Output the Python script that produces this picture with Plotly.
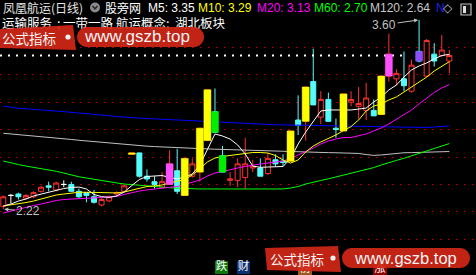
import plotly.graph_objects as go

W, H = 476, 275

# ---------------- data ----------------
opens = [2.24, 2.32, 2.33, 2.30, 2.31, 2.35, 2.39, 2.36, 2.40, 2.40,
         2.35, 2.34, 2.31, 2.25, 2.28, 2.33, 2.35, 2.62, 2.63, 2.46,
         2.42, 2.38, 2.40, 2.50, 2.32, 2.46, 2.49, 2.72, 2.93, 2.61,
         2.43, 2.43, 2.45, 2.52, 2.52, 2.48, 2.58, 2.57, 2.57, 2.87,
         2.86, 3.15, 2.89, 3.02, 2.81, 2.79, 3.00, 2.97, 2.94, 2.94,
         2.91, 3.19, 3.17, 3.17, 3.08, 3.37, 3.19, 3.35, 3.34, 3.30]
highs = [2.32, 2.33, 2.34, 2.33, 2.35, 2.39, 2.42, 2.42, 2.43, 2.42,
         2.37, 2.34, 2.36, 2.30, 2.32, 2.35, 2.40, 2.63, 2.63, 2.51,
         2.46, 2.49, 2.65, 2.66, 2.59, 2.59, 2.81, 3.09, 3.10, 2.68,
         2.49, 2.59, 2.74, 2.58, 2.59, 2.63, 2.62, 2.62, 2.79, 3.05,
         3.11, 3.39, 3.08, 3.07, 2.88, 3.06, 3.08, 3.11, 3.14, 3.02,
         3.19, 3.50, 3.24, 3.37, 3.31, 3.60, 3.46, 3.43, 3.49, 3.38]
lows = [2.22, 2.26, 2.29, 2.29, 2.30, 2.34, 2.35, 2.35, 2.38, 2.35,
        2.30, 2.27, 2.26, 2.24, 2.27, 2.31, 2.34, 2.62, 2.45, 2.42,
        2.37, 2.38, 2.40, 2.33, 2.32, 2.45, 2.42, 2.72, 2.78, 2.49,
        2.39, 2.38, 2.37, 2.49, 2.46, 2.47, 2.53, 2.53, 2.57, 2.76,
        2.72, 2.98, 2.84, 2.86, 2.74, 2.79, 2.97, 2.88, 2.87, 2.90,
        2.91, 3.15, 3.12, 3.08, 3.07, 3.29, 3.18, 3.26, 3.33, 3.21]
closes = [2.31, 2.32, 2.31, 2.32, 2.34, 2.38, 2.38, 2.41, 2.40, 2.35,
          2.31, 2.32, 2.27, 2.29, 2.31, 2.34, 2.39, 2.63, 2.46, 2.44,
          2.40, 2.42, 2.55, 2.35, 2.59, 2.55, 2.81, 3.09, 2.78, 2.49,
          2.44, 2.55, 2.55, 2.53, 2.46, 2.59, 2.55, 2.56, 2.79, 2.83,
          3.11, 2.98, 3.02, 2.86, 2.80, 3.06, 3.02, 2.99, 3.03, 2.90,
          3.19, 3.35, 3.21, 3.12, 3.27, 3.30, 3.45, 3.30, 3.38, 3.34]
# indicator colouring of bodies: Y yellow, M magenta, G green, P purple
marks = ['', '', '', '', '', '', '', '', '', '',
         '', '', '', '', '', '', '', 'Y', '', '',
         '', '', 'M', '', 'Y', '', 'Y', 'Y', 'G', 'G',
         '', '', '', '', '', '', '', '', 'Y', '',
         'Y', '', '', '', '', 'Y', '', '', '', '',
         'Y', 'M', '', '', '', 'P', '', '', '', '']

ma5 = [2.243, 2.257, 2.279, 2.294, 2.316, 2.330, 2.345, 2.360, 2.370, 2.378,
       2.381, 2.367, 2.327, 2.311, 2.306, 2.316, 2.345, 2.392, 2.436, 2.458,
       2.462, 2.465, 2.451, 2.440, 2.454, 2.476, 2.542, 2.658, 2.768, 2.753,
       2.731, 2.688, 2.622, 2.534, 2.525, 2.527, 2.527, 2.531, 2.589, 2.695,
       2.782, 2.863, 2.936, 2.943, 2.943, 2.943, 2.943, 2.950, 2.957, 3.001,
       3.038, 3.089, 3.125, 3.183, 3.235, 3.264, 3.286, 3.315, 3.340, 3.349]
ma10 = [2.243, 2.250, 2.257, 2.268, 2.279, 2.294, 2.308, 2.323, 2.330, 2.338,
        2.343, 2.343, 2.341, 2.338, 2.335, 2.338, 2.345, 2.360, 2.374, 2.385,
        2.389, 2.396, 2.411, 2.425, 2.436, 2.469, 2.513, 2.564, 2.593, 2.604,
        2.611, 2.618, 2.626, 2.633, 2.633, 2.629, 2.611, 2.578, 2.556, 2.578,
        2.637, 2.680, 2.710, 2.735, 2.761, 2.793, 2.822, 2.870, 2.936, 2.972,
        2.987, 3.016, 3.038, 3.074, 3.111, 3.147, 3.183, 3.227, 3.264, 3.295]
ma20 = [2.192, 2.206, 2.221, 2.232, 2.246, 2.257, 2.272, 2.283, 2.290, 2.294,
        2.297, 2.301, 2.302, 2.305, 2.308, 2.312, 2.327, 2.341, 2.352, 2.360,
        2.367, 2.372, 2.378, 2.385, 2.400, 2.414, 2.432, 2.462, 2.483, 2.494,
        2.509, 2.520, 2.531, 2.542, 2.549, 2.556, 2.564, 2.571, 2.589, 2.615,
        2.637, 2.666, 2.695, 2.717, 2.731, 2.742, 2.742, 2.753, 2.768, 2.790,
        2.812, 2.841, 2.874, 2.906, 2.943, 2.987, 3.030, 3.070, 3.103, 3.129]
ma60 = [2.571, 2.556, 2.545, 2.534, 2.525, 2.516, 2.505, 2.496, 2.483, 2.469,
        2.456, 2.447, 2.437, 2.429, 2.418, 2.411, 2.403, 2.398, 2.392, 2.389,
        2.384, 2.379, 2.376, 2.373, 2.370, 2.367, 2.367, 2.367, 2.367, 2.367,
        2.367, 2.367, 2.367, 2.367, 2.367, 2.367, 2.367, 2.367, 2.374, 2.385,
        2.403, 2.418, 2.429, 2.441, 2.454, 2.469, 2.480, 2.494, 2.510, 2.523,
        2.542, 2.556, 2.575, 2.591, 2.607, 2.626, 2.644, 2.662, 2.680, 2.698]
ma120 = [2.773, 2.768, 2.763, 2.758, 2.753, 2.751, 2.748, 2.742, 2.735, 2.728,
         2.722, 2.717, 2.710, 2.706, 2.702, 2.697, 2.691, 2.686, 2.683, 2.679,
         2.676, 2.673, 2.669, 2.667, 2.665, 2.663, 2.661, 2.659, 2.657, 2.655,
         2.653, 2.651, 2.649, 2.647, 2.645, 2.644, 2.642, 2.641, 2.640, 2.638,
         2.637, 2.635, 2.634, 2.632, 2.631, 2.629, 2.628, 2.626, 2.618, 2.612,
         2.615, 2.622, 2.627, 2.631, 2.632, 2.634, 2.635, 2.637, 2.638, 2.640]
ma250 = [2.972, 2.961, 2.955, 2.952, 2.948, 2.945, 2.943, 2.937, 2.931, 2.926,
         2.921, 2.917, 2.914, 2.909, 2.901, 2.895, 2.890, 2.887, 2.884, 2.881,
         2.878, 2.875, 2.872, 2.870, 2.868, 2.866, 2.864, 2.861, 2.857, 2.853,
         2.850, 2.846, 2.843, 2.840, 2.838, 2.836, 2.835, 2.834, 2.833, 2.832,
         2.830, 2.829, 2.828, 2.826, 2.825, 2.825, 2.823, 2.822, 2.820, 2.819,
         2.817, 2.816, 2.815, 2.814, 2.814, 2.814, 2.815, 2.819, 2.824, 2.826]

legend_names = ['M5', 'M10', 'M20', 'M60', 'M120']
legend_vals = [3.35, 3.29, 3.13, 2.70, 2.64]
grid_levels = [2.0, 2.2, 2.4, 2.6, 2.8, 3.0, 3.2, 3.4]

stock_title = '凤凰航运(日线)'
site_name = '股旁网'
concepts = ['运输服务', ';', '一带一路', '航运概念', ';', '湖北板块']
bottom_tags = ['跌', '财', '榜', '涨']

# ---------------- styling ----------------
RED = '#FF3232'
CYAN = '#54FCFC'
MARK_COLORS = {'Y': '#FFFF00', 'M': '#FF50FF', 'G': '#00EE00', 'P': '#8850FF'}
MA_COLORS = ['#FFFFFF', '#FFFF00', '#FF00FF', '#00FF00', '#C0C0C0', '#0000FF']
CJK = 'Noto Sans CJK SC'
LAT = 'Liberation Sans'
WM = 'rgba(208,38,22,0.93)'
HALF = 0.465  # half width of indicator bodies (in candle slots)

XR = [-0.4365, 62.527]
YR = [1.7397, 3.7449]

def px(x):
    return x / W

def py(y):
    return 1 - y / H

def dx(x):
    return XR[0] + x / W * (XR[1] - XR[0])

def dy(y):
    return YR[1] - y / H * (YR[1] - YR[0])

idx = list(range(len(opens)))
fig = go.Figure()

# current-price dotted line
fig.add_trace(go.Scatter(x=[XR[0], 53.5], y=[closes[-1], closes[-1]], mode='lines',
                         line=dict(color='#FFFFFF', width=2, dash='2px,6px'),
                         hoverinfo='skip'))

# candles
groups = [
    ([i for i in idx if closes[i] > opens[i]], RED, '#000000'),
    ([i for i in idx if closes[i] < opens[i]], CYAN, CYAN),
    ([i for i in idx if closes[i] == opens[i]], '#FFFFFF', '#FFFFFF'),
]
for ii, col, fill in groups:
    fig.add_trace(go.Candlestick(
        x=ii, open=[opens[i] for i in ii], high=[highs[i] for i in ii],
        low=[lows[i] for i in ii], close=[closes[i] for i in ii],
        increasing=dict(line=dict(color=col, width=1), fillcolor=fill),
        decreasing=dict(line=dict(color=col, width=1), fillcolor=fill),
        whiskerwidth=0, hoverinfo='skip'))

# moving averages
for arr, col in zip([ma250, ma120, ma60, ma20, ma10, ma5],
                    [MA_COLORS[5], MA_COLORS[4], MA_COLORS[3], MA_COLORS[2], MA_COLORS[1], MA_COLORS[0]]):
    fig.add_trace(go.Scatter(x=idx, y=arr, mode='lines', line=dict(color=col, width=1),
                             hoverinfo='skip'))

# indicator-coloured bodies, drawn over the candles
for key, col in MARK_COLORS.items():
    xs, ys = [], []
    for i in idx:
        if marks[i] != key:
            continue
        b0, b1 = min(opens[i], closes[i]), max(opens[i], closes[i])
        xs += [i - HALF, i + HALF, i + HALF, i - HALF, i - HALF, None]
        ys += [b0, b0, b1, b1, b0, None]
    fig.add_trace(go.Scatter(x=xs, y=ys, mode='lines', fill='toself', fillcolor=col,
                             line=dict(width=0.5, color=col), hoverinfo='skip'))

# second-row concept text (under the watermark)
concept_x = [2, 57, 63, 116, 166, 175]
fig.add_trace(go.Scatter(x=[dx(v) for v in concept_x], y=[dy(25)] * len(concepts),
                         mode='text', text=concepts, textposition='middle right',
                         textfont=dict(family=CJK, size=12.5, color='#FFFFFF'),
                         marker=dict(size=1), hoverinfo='skip'))

# bottom tag boxes
tag_boxes = [(215, 261, 228, 274, '#0B780B'), (237, 261, 250, 274, '#0A2F72'),
             (298, 263, 312, 276, '#A0581C'), (373, 263, 387, 276, '#8C0000')]
shapes = []
for (x0, y0, x1, y1, c) in tag_boxes:
    shapes.append(dict(type='rect', xref='paper', yref='paper', x0=px(x0), x1=px(x1),
                       y0=py(y1), y1=py(y0), fillcolor=c, line=dict(width=0), layer='below'))
fig.add_trace(go.Scatter(x=[dx((b[0] + b[2]) / 2) for b in tag_boxes],
                         y=[dy((b[1] + b[3]) / 2) for b in tag_boxes],
                         mode='text', text=bottom_tags, textposition='middle center',
                         textfont=dict(family=CJK, size=11.5, color='#FFFFFF'),
                         marker=dict(size=1), hoverinfo='skip'))

# watermark shapes
def path(pts):
    s = 'M %.5f %.5f' % (px(pts[0][0]), py(pts[0][1]))
    for p in pts[1:]:
        s += ' L %.5f %.5f' % (px(p[0]), py(p[1]))
    return s + ' Z'

def pill(x0, y0, x1, y1):
    r = (y1 - y0) / 2
    ym = (y0 + y1) / 2
    P = lambda x, y: '%.5f %.5f' % (px(x), py(y))
    return ('M ' + P(x0 + r, y0) + ' L ' + P(x1 - r, y0) +
            ' C ' + P(x1 - r + 0.55 * r, y0) + ' ' + P(x1, ym - 0.55 * r) + ' ' + P(x1, ym) +
            ' C ' + P(x1, ym + 0.55 * r) + ' ' + P(x1 - r + 0.55 * r, y1) + ' ' + P(x1 - r, y1) +
            ' L ' + P(x0 + r, y1) +
            ' C ' + P(x0 + r - 0.55 * r, y1) + ' ' + P(x0, ym + 0.55 * r) + ' ' + P(x0, ym) +
            ' C ' + P(x0, ym - 0.55 * r) + ' ' + P(x0 + r - 0.55 * r, y0) + ' ' + P(x0 + r, y0) + ' Z')

for pts in ([(0, 29), (73, 25), (76, 50), (0, 48)], [(265, 248), (338, 246), (341, 272), (267, 270)]):
    shapes.append(dict(type='path', xref='paper', yref='paper', path=path(pts),
                       fillcolor=WM, line=dict(width=0), layer='above'))
for (x0, y0, x1, y1) in ((77, 27, 204, 47), (342, 248, 470, 268)):
    shapes.append(dict(type='path', xref='paper', yref='paper', path=pill(x0, y0, x1, y1),
                       fillcolor=WM, line=dict(width=0), layer='above'))
for (cx, cy) in ((68, 37), (333, 258)):
    shapes.append(dict(type='circle', xref='paper', yref='paper', x0=px(cx - 2.6), x1=px(cx + 2.6),
                       y0=py(cy + 2.6), y1=py(cy - 2.6), fillcolor='#F0F0F0', line=dict(width=0),
                       layer='above'))

# header icons
shapes.append(dict(type='circle', xref='paper', yref='paper', x0=px(90), x1=px(100),
                   y0=py(12.5), y1=py(2.5), fillcolor='#8A8A8A', line=dict(width=0)))
shapes.append(dict(type='path', xref='paper', yref='paper',
                   path='M %.5f %.5f L %.5f %.5f L %.5f %.5f' % (px(92.5), py(6), px(95), py(8.8), px(97.5), py(6)),
                   line=dict(color='#2A2A2A', width=1.6)))
shapes.append(dict(type='rect', xref='paper', yref='paper', x0=px(461), x1=px(471),
                   y0=py(15), y1=py(4), line=dict(color='#BBBBBB', width=1.2), fillcolor='#111111'))
shapes.append(dict(type='rect', xref='paper', yref='paper', x0=px(463), x1=px(466),
                   y0=py(13), y1=py(6), line=dict(width=0), fillcolor='#DDDDDD'))

annotations = []

def label(text, x, y, color, size, family=LAT):
    annotations.append(dict(text=text, x=px(x), y=py(y), xref='paper', yref='paper',
                            xanchor='left', yanchor='middle', showarrow=False,
                            font=dict(family=family, size=size, color=color), borderpad=0))

label(stock_title, 2, 8, '#E6E6E6', 12, CJK)
label(site_name, 104, 8, '#FFFFFF', 12, CJK)
leg_x = [147, 197, 256, 313, 369]
leg_c = ['#FFFFFF', '#FFFF00', '#FF00FF', '#00FF00', '#C8C8C8']
for name, val, x, c in zip(legend_names, legend_vals, leg_x, leg_c):
    label('%s: %.2f' % (name, val), x, 8, c, 12)
label('N', 435, 8, '#2020E8', 12)
label('◇', 442, 8, '#BBBBBB', 12, 'DejaVu Sans')

# watermark text
for (t, x, y, s, fam) in [('公式指标', 29, 37.5, 13.5, CJK), ('www.gszb.top', 137, 37, 17, LAT),
                          ('公式指标', 297, 258.5, 13.5, CJK), ('www.gszb.top', 405, 258, 16.5, LAT)]:
    annotations.append(dict(text=t, x=px(x), y=py(y), xref='paper', yref='paper',
                            xanchor='center', yanchor='middle', showarrow=False,
                            font=dict(family=fam, size=s, color='#F4F4F4')))

# high / low markers
hi = max(highs)
ih = highs.index(hi)
lo = min(lows)
il = lows.index(lo)
annotations.append(dict(x=ih, y=hi, xref='x', yref='y', text='%.2f' % hi, showarrow=True,
                        ax=-35, ay=5, arrowhead=2, arrowsize=0.8, arrowwidth=1,
                        arrowcolor='#C0C0C0', standoff=1,
                        font=dict(family=LAT, size=12, color='#C0C0C0')))
annotations.append(dict(x=il, y=lo, xref='x', yref='y', text='%.2f' % lo, showarrow=True,
                        ax=25, ay=2, arrowhead=2, arrowsize=0.8, arrowwidth=1,
                        arrowcolor='#C0C0C0', standoff=1,
                        font=dict(family=LAT, size=12, color='#C0C0C0')))

fig.update_layout(
    width=W, height=H, margin=dict(l=0, r=0, t=0, b=0),
    paper_bgcolor='#000000', plot_bgcolor='#000000',
    showlegend=False, hovermode=False,
    boxgap=0.34, boxgroupgap=0,
    xaxis=dict(range=XR, visible=False, rangeslider=dict(visible=False), fixedrange=True),
    yaxis=dict(range=YR, tickvals=grid_levels, showticklabels=False, ticks='',
               showgrid=True, gridcolor='#A00000', gridwidth=1, griddash='2px,6px',
               zeroline=False, showline=False, fixedrange=True),
    shapes=shapes, annotations=annotations,
)

fig.write_html('out.html')
